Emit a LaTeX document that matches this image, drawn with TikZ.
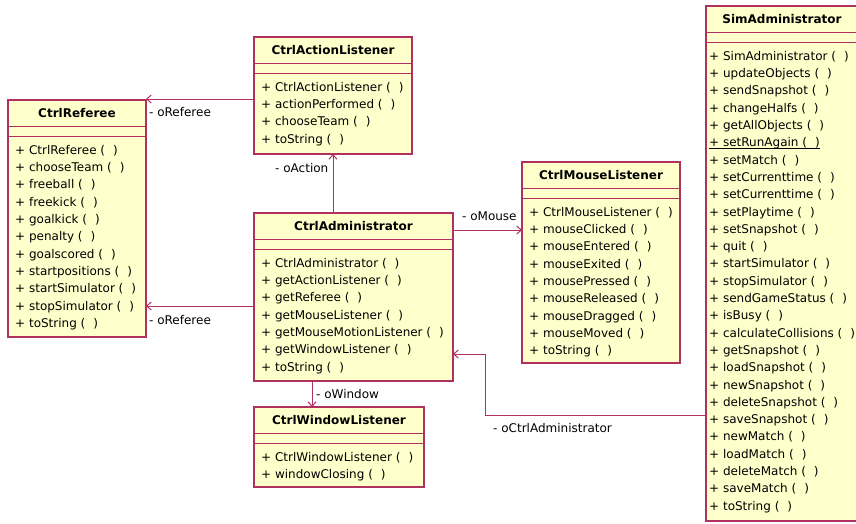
\documentclass[tikz,border=0pt]{standalone}
\usepackage{fontspec}
\setmainfont{DejaVu Sans}
\usetikzlibrary{arrows.meta}
\definecolor{umlline}{HTML}{B03060}
\definecolor{umlfill}{HTML}{FFFFCC}
\newcommand\emptyparens{(\hspace{8pt})}
% underline drawn close below the baseline (static operation)
\newcommand\staticop[1]{\setbox0\hbox{#1}\rlap{\rule[-2pt]{\wd0}{0.8pt}}\box0}

\begin{document}
\begin{tikzpicture}[x=1pt,y=-1pt,
  classbox/.style={draw=umlline, fill=umlfill, line width=1.2pt, inner sep=0pt,
    outer sep=0pt, anchor=north west, rectangle},
  sep/.style={draw=umlline, line width=1.2pt},
  classtitle/.style={font=\bfseries\fontsize{12}{14}\selectfont, inner sep=0pt},
  ops/.style={font=\fontsize{12}{17.3}\selectfont, align=left, inner sep=0pt,
    anchor=north west},
  assoc/.style={draw=umlline, line width=1pt,
    -{Straight Barb[length=4.5pt,width=8pt]}},
  role/.style={font=\fontsize{12}{14}\selectfont, inner sep=0pt, anchor=west},
]
\useasboundingbox (0,0) rectangle (856,523);
\fill[white] (0,0) rectangle (856,523);
\clip (0,0) rectangle (856,523);

% ---------- class boxes ----------
\node[classbox, minimum width=138pt, minimum height=237pt] (ref) at (8,100) {};
\node[classbox, minimum width=158pt, minimum height=117pt] (act) at (254,37) {};
\node[classbox, minimum width=199pt, minimum height=168pt] (adm) at (254,213) {};
\node[classbox, minimum width=158pt, minimum height=201pt] (mou) at (522,162) {};
\node[classbox, minimum width=170pt, minimum height=80pt] (win) at (254,407) {};
\node[classbox, minimum width=152pt, minimum height=515pt] (sim) at (706,6) {};

% compartment separators
\foreach \c in {ref,act,adm,mou,win,sim}{
  \draw[sep] ([yshift=-26.5pt]\c.north west) -- ([yshift=-26.5pt]\c.north east);
  \draw[sep] ([yshift=-36.5pt]\c.north west) -- ([yshift=-36.5pt]\c.north east);
}

% ---------- titles ----------
\node[classtitle] (refT) at ([yshift=-13.5pt]ref.north) {CtrlReferee};
\node[classtitle] (actT) at ([yshift=-13.5pt]act.north) {CtrlActionListener};
\node[classtitle] (admT) at ([yshift=-13.5pt]adm.north) {CtrlAdministrator};
\node[classtitle] (mouT) at ([yshift=-13.5pt]mou.north) {CtrlMouseListener};
\node[classtitle] (winT) at ([yshift=-13.5pt]win.north) {CtrlWindowListener};
\node[classtitle] (simT) at ([yshift=-13.5pt]sim.north) {SimAdministrator};

% ---------- operations ----------
\node[ops] (refM) at ([xshift=7pt,yshift=-45pt]ref.north west) {%
+ CtrlReferee \emptyparens\\
+ chooseTeam \emptyparens\\
+ freeball \emptyparens\\
+ freekick \emptyparens\\
+ goalkick \emptyparens\\
+ penalty \emptyparens\\
+ goalscored \emptyparens\\
+ startpositions \emptyparens\\
+ startSimulator \emptyparens\\
+ stopSimulator \emptyparens\\
+ toString \emptyparens};

\node[ops] (actM) at ([xshift=7pt,yshift=-45pt]act.north west) {%
+ CtrlActionListener \emptyparens\\
+ actionPerformed \emptyparens\\
+ chooseTeam \emptyparens\\
+ toString \emptyparens};

\node[ops] (admM) at ([xshift=7pt,yshift=-45pt]adm.north west) {%
+ CtrlAdministrator \emptyparens\\
+ getActionListener \emptyparens\\
+ getReferee \emptyparens\\
+ getMouseListener \emptyparens\\
+ getMouseMotionListener \emptyparens\\
+ getWindowListener \emptyparens\\
+ toString \emptyparens};

\node[ops] (mouM) at ([xshift=7pt,yshift=-45pt]mou.north west) {%
+ CtrlMouseListener \emptyparens\\
+ mouseClicked \emptyparens\\
+ mouseEntered \emptyparens\\
+ mouseExited \emptyparens\\
+ mousePressed \emptyparens\\
+ mouseReleased \emptyparens\\
+ mouseDragged \emptyparens\\
+ mouseMoved \emptyparens\\
+ toString \emptyparens};

\node[ops] (winM) at ([xshift=7pt,yshift=-45pt]win.north west) {%
+ CtrlWindowListener \emptyparens\\
+ windowClosing \emptyparens};

\node[ops] (simM) at ([xshift=3pt,yshift=-45pt]sim.north west) {%
+ SimAdministrator \emptyparens\\
+ updateObjects \emptyparens\\
+ sendSnapshot \emptyparens\\
+ changeHalfs \emptyparens\\
+ getAllObjects \emptyparens\\
\staticop{+ setRunAgain \emptyparens}\\
+ setMatch \emptyparens\\
+ setCurrenttime \emptyparens\\
+ setCurrenttime \emptyparens\\
+ setPlaytime \emptyparens\\
+ setSnapshot \emptyparens\\
+ quit \emptyparens\\
+ startSimulator \emptyparens\\
+ stopSimulator \emptyparens\\
+ sendGameStatus \emptyparens\\
+ isBusy \emptyparens\\
+ calculateCollisions \emptyparens\\
+ getSnapshot \emptyparens\\
+ loadSnapshot \emptyparens\\
+ newSnapshot \emptyparens\\
+ deleteSnapshot \emptyparens\\
+ saveSnapshot \emptyparens\\
+ newMatch \emptyparens\\
+ loadMatch \emptyparens\\
+ deleteMatch \emptyparens\\
+ saveMatch \emptyparens\\
+ toString \emptyparens};

% ---------- associations ----------
\coordinate (refHi) at (0,99);
\coordinate (refLo) at (0,306);
\coordinate (mouY) at (0,230);
\coordinate (winX) at (312,0);
\coordinate (bendLow) at (485,415);
\coordinate (bendHigh) at (485,354);

\draw[assoc] (act.west |- refHi) -- (ref.east |- refHi);
\draw[assoc] (adm.west |- refLo) -- (ref.east |- refLo);
\draw[assoc] (adm.north -| act.south) -- (act.south);
\draw[assoc] (adm.east |- mouY) -- (mou.west |- mouY);
\draw[assoc] (adm.south -| winX) -- (win.north -| winX);
\draw[assoc] (sim.west |- bendLow) -- (bendLow) -- (bendHigh) -- (adm.east |- bendHigh);

% role names
\node[role] (lRefHi) at (149,112) {- oReferee};
\node[role] (lRefLo) at (149,320) {- oReferee};
\node[role] (lAct) at (275,168) {- oAction};
\node[role] (lMou) at (462,216) {- oMouse};
\node[role] (lWin) at (316,394) {- oWindow};
\node[role] (lSim) at (493,428) {- oCtrlAdministrator};
\end{tikzpicture}
\end{document}
